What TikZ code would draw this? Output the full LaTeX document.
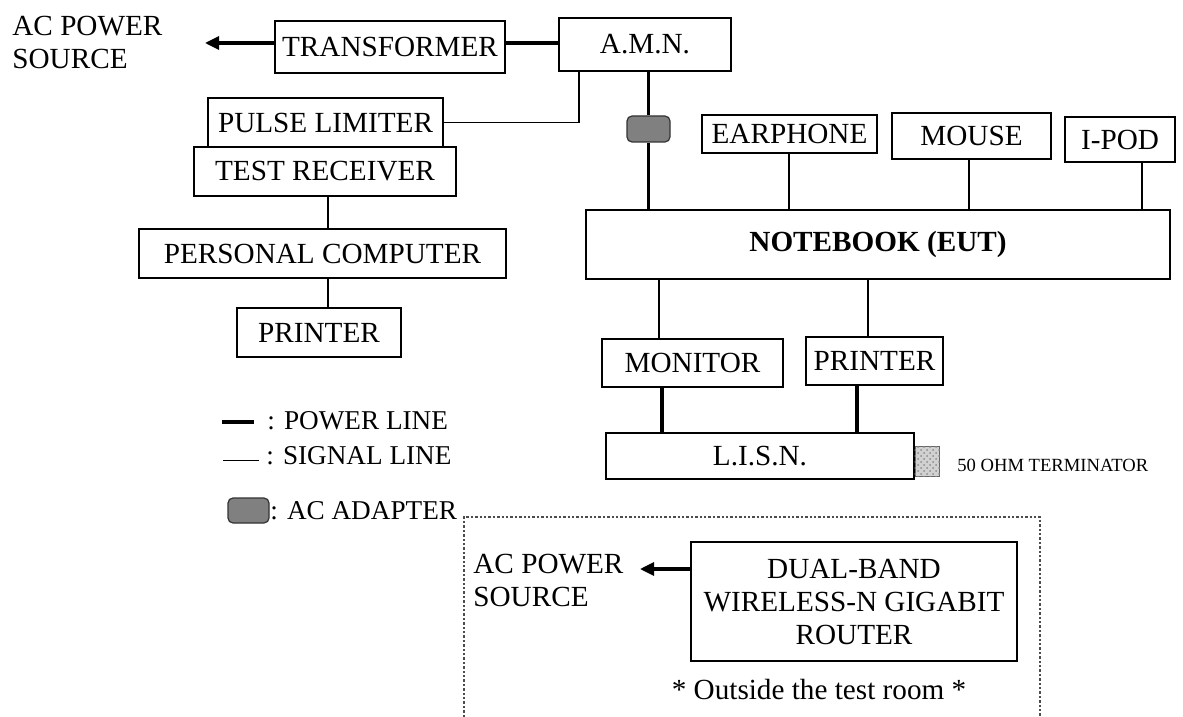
\documentclass[tikz,border=0pt]{standalone}
\usepackage{fontspec}
\setmainfont{Liberation Serif}
\usetikzlibrary{arrows.meta,patterns}
\begin{document}
\begin{tikzpicture}[x=0.5pt,y=-0.5pt,
  box/.style={draw=black,line width=0.6pt,inner sep=0pt,font=\fontsize{14.6}{16.5}\selectfont,align=center},
  adapter/.style={draw=black!80,line width=0.6pt,fill=black!50,rounded corners=2.5pt,inner sep=0pt,minimum width=21.5pt,minimum height=13pt},
  txt/.style={inner sep=0pt,font=\fontsize{14.6}{16.5}\selectfont},
  pow/.style={line width=1.6pt},
  sig/.style={line width=0.6pt},
  arr/.style={pow,-{Triangle[length=7pt,width=6.5pt]}},
  leg/.style={inner sep=0pt,font=\fontsize{13.6}{16}\selectfont,anchor=west}]
\useasboundingbox (0,0) rectangle (1183,717);

% boxes
\node[box,minimum width=115pt,minimum height=26pt] (trans) at (390,47) {TRANSFORMER};
\node[box,minimum width=86pt,minimum height=26.5pt] (amn) at (645,44.5) {A.M.N.};
\node[box,minimum width=117.5pt,minimum height=24.5pt] (pl) at (325.5,122.5) {PULSE LIMITER};
\node[box,minimum width=131pt,minimum height=24.5pt] (tr) at (325,171.5) {TEST RECEIVER};
\node[box,minimum width=183.5pt,minimum height=24.5pt] (pc) at (322.5,253.5) {PERSONAL COMPUTER};
\node[box,minimum width=82pt,minimum height=24.5pt] (prl) at (319,332.5) {PRINTER};
\node[adapter] (adp) at (648.5,129) {};
\node[box,minimum width=87.5pt,minimum height=19pt] (ear) at (789.5,134) {EARPHONE};
\node[box,minimum width=79.5pt,minimum height=23pt] (mouse) at (971.5,136) {MOUSE};
\node[box,minimum width=55pt,minimum height=22.5pt] (ipod) at (1120,139.5) {I-POD};
\node[box,minimum width=292pt,minimum height=34.5pt] (nb) at (878,244.5) {\bfseries NOTEBOOK (EUT)};
\node[box,minimum width=90.5pt,minimum height=24pt] (mon) at (692.5,363) {MONITOR};
\node[box,minimum width=68.5pt,minimum height=24pt] (prr) at (874.5,361) {PRINTER};
\node[box,minimum width=154pt,minimum height=23pt] (lisn) at (760,456) {L.I.S.N.};
\node[draw=black!60,line width=0.5pt,fill=black!18,pattern color=black!45,inner sep=0pt,minimum width=12pt,minimum height=15pt] (term) at (927,461) {};
\fill[pattern=crosshatch dots,pattern color=black!45] (term.south west) rectangle (term.north east);
\node[inner sep=0pt,anchor=west,font=\fontsize{9.3}{11}\selectfont] (termt) at (957,465) {50 OHM TERMINATOR};
\node[box,minimum width=163pt,minimum height=59.5pt] (router) at (854,601.5) {DUAL-BAND\\WIRELESS-N GIGABIT\\ROUTER};

% AC power sources
\node[txt,align=left,anchor=west] (ac1) at (12,42) {AC POWER\\SOURCE};
\node[txt,align=left,anchor=west] (ac2) at (473,580) {AC POWER\\SOURCE};
\coordinate (tip1) at (205,43);
\coordinate (tip2) at (640,569);
\node[txt] (outside) at (819,690) {* Outside the test room *};

% x positions of vertical connectors
\coordinate (xq) at (579,0);
\coordinate (xtr) at (328,0);
\coordinate (xear) at (789,0);
\coordinate (xmou) at (969,0);
\coordinate (xipod) at (1142,0);
\coordinate (xmon) at (659,0);
\coordinate (xmonp) at (662,0);
\coordinate (xprr) at (868,0);
\coordinate (xprrp) at (857,0);

% power connectors
\draw[arr] (trans.west |- tip1) -- (tip1);
\draw[pow] (trans.east |- tip1) -- (amn.west |- tip1);
\draw[pow] (amn.south -| adp) -- (adp.north);
\draw[pow] (adp.south) -- (nb.north -| adp);
\draw[pow] (mon.south -| xmonp) -- (lisn.north -| xmonp);
\draw[pow] (prr.south -| xprrp) -- (lisn.north -| xprrp);
\draw[arr] (router.west |- tip2) -- (tip2);

% signal connectors
\draw[sig] (amn.south -| xq) |- (pl.east);
\draw[sig] (tr.south -| xtr) -- (pc.north -| xtr);
\draw[sig] (pc.south -| xtr) -- (prl.north -| xtr);
\draw[sig] (ear.south -| xear) -- (nb.north -| xear);
\draw[sig] (mouse.south -| xmou) -- (nb.north -| xmou);
\draw[sig] (ipod.south -| xipod) -- (nb.north -| xipod);
\draw[sig] (nb.south -| xmon) -- (mon.north -| xmon);
\draw[sig] (nb.south -| xprr) -- (prr.north -| xprr);

% legend
\draw[pow] (222,422) -- (254,422);
\node[leg] (lpow) at (267,421) {: POWER LINE};
\draw[line width=0.5pt] (223,460) -- (259,460);
\node[leg] (lsig) at (266,456) {: SIGNAL LINE};
\node[adapter,minimum width=20.5pt,minimum height=12.5pt] (ladp) at (248.5,510.5) {};
\node[leg] (ladpt) at (270,511) {: AC ADAPTER};

% outside room boundary
\draw[black!70,line width=0.6pt,dash pattern=on 1.2pt off 1pt] (464,717) -- (464,517) -- (1040,517) -- (1040,717);
\end{tikzpicture}
\end{document}
